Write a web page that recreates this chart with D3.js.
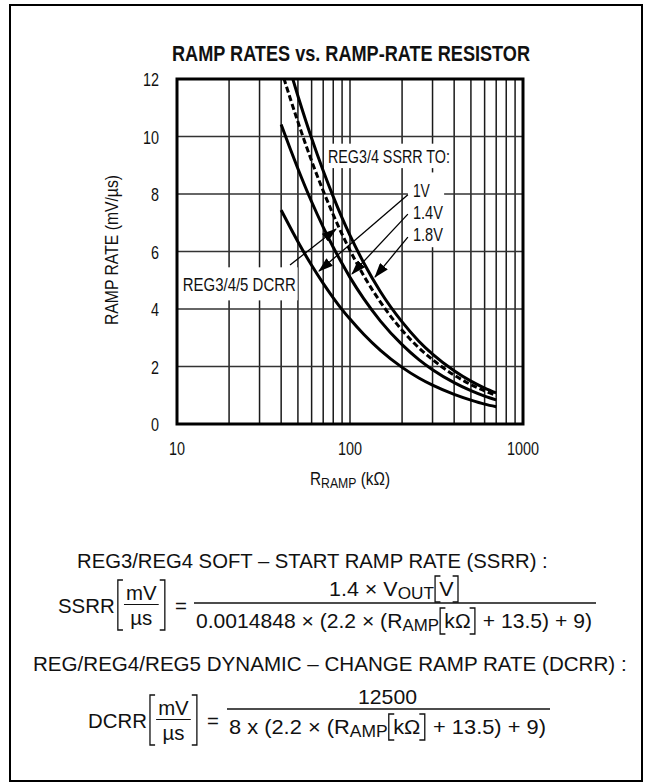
<!DOCTYPE html>
<html>
<head>
<meta charset="utf-8">
<script src="https://cdn.jsdelivr.net/npm/d3@7"></script>
<style>
body { margin: 0; background: #fff; }
text { font-family: "Liberation Sans", Arial, sans-serif; fill: #111; white-space: pre; }
</style>
</head>
<body>
<div class="module"></div>
<script>
// values (R in kOhm, rates in mV/us)
const rRamp   = [40, 45, 50, 60, 70, 80, 90, 100, 120, 150, 200, 250, 300, 400, 500, 600, 700];
const ssrr1v  = [7.44, 6.85, 6.34, 5.52, 4.89, 4.39, 3.98, 3.65, 3.12, 2.56, 1.97, 1.60, 1.35, 1.03, 0.83, 0.69, 0.60];
const ssrr14v = [10.42, 9.59, 8.88, 7.73, 6.85, 6.15, 5.58, 5.10, 4.36, 3.58, 2.76, 2.24, 1.89, 1.44, 1.16, 0.97, 0.84];
const ssrr18v = [13.40, 12.32, 11.41, 9.94, 8.81, 7.91, 7.17, 6.56, 5.61, 4.60, 3.55, 2.88, 2.43, 1.85, 1.49, 1.25, 1.08];
const dcrr    = [12.33, 11.35, 10.51, 9.15, 8.11, 7.28, 6.60, 6.04, 5.16, 4.24, 3.26, 2.65, 2.24, 1.70, 1.37, 1.15, 0.99];

const yTicks = [0, 2, 4, 6, 8, 10, 12];
const xTicks = [10, 100, 1000];
const xGrid = [20, 30, 40, 50, 60, 70, 80, 90, 100, 200, 300, 400, 500, 600, 700, 800, 900];

// annotation anchors, in data units
const voltLabels = ["1V", "1.4V", "1.8V"];
const voltLabelV = [8.14, 7.37, 6.61];
const voltLabelR = 231;
const arrows = [
  { from: [45, 5.53], to: [83, 6.78] },     // DCRR
  { from: [216, 7.97], to: [66.2, 5.32] },  // 1V
  { from: [216, 7.30], to: [102.7, 5.22] }, // 1.4V
  { from: [216, 6.50], to: [139.5, 5.11] }  // 1.8V
];

const W = 652, H = 784;
const svg = d3.select(".module").append("svg")
  .attr("width", W)
  .attr("height", H);

// outer frame
svg.append("rect")
  .attr("x", 10).attr("y", 5)
  .attr("width", 632).attr("height", 776)
  .attr("fill", "none").attr("stroke", "#000").attr("stroke-width", 2);

const x = d3.scaleLog().domain([10, 1000]).range([177, 523]);
const y = d3.scaleLinear().domain([0, 12]).range([424, 79]);

function squeeze(sel, w) {
  return sel.attr("textLength", w).attr("lengthAdjust", "spacingAndGlyphs");
}

// squash a group horizontally so it runs from x0 to x1
function fit(g, x0, x1) {
  const b = g.node().getBBox();
  const s = (x1 - x0) / b.width;
  g.attr("transform", "translate(" + (x0 - b.x * s) + ",0) scale(" + s + ",1)");
}

function bracket(g, bx, y0, y1, dir) {
  g.append("path")
    .attr("d", "M" + (bx + 5 * dir) + "," + y0 + "H" + bx + "V" + y1 + "H" + (bx + 5 * dir))
    .attr("fill", "none").attr("stroke", "#111").attr("stroke-width", 1.3)
    .attr("vector-effect", "non-scaling-stroke");
}

// lay out pieces of a formula on one baseline
function row(parent, pieces, base, fs) {
  const g = parent.append("g");
  let cx = 0;
  pieces.forEach(p => {
    if (p.gap) { cx += p.gap; return; }
    if (p.frac) {
      const top = g.append("text").attr("y", base - 13).style("font-size", fs + "px")
        .attr("text-anchor", "middle").text(p.frac[0]);
      const bot = g.append("text").attr("y", base + 12).style("font-size", fs + "px")
        .attr("text-anchor", "middle").text(p.frac[1]);
      const w = Math.max(top.node().getComputedTextLength(), bot.node().getComputedTextLength());
      bracket(g, cx + 3, base - 33, base + 17, 1);
      const mid = cx + 3 + 8 + w / 2;
      top.attr("x", mid); bot.attr("x", mid);
      g.append("line").attr("x1", mid - w / 2 - 2).attr("x2", mid + w / 2 + 2)
        .attr("y1", base - 8.5).attr("y2", base - 8.5)
        .attr("stroke", "#111").attr("stroke-width", 1.2);
      cx = mid + w / 2 + 8;
      bracket(g, cx, base - 33, base + 17, -1);
      cx += 3;
      return;
    }
    const size = p.sub ? fs * 0.8 : fs;
    const pad = p.br ? 5 : 0;
    if (p.br) bracket(g, cx + 1, base - fs * 1.0, base + fs * 0.3, 1);
    const t = g.append("text")
      .attr("x", cx + pad)
      .attr("y", base + (p.sub ? fs * 0.15 : 0))
      .style("font-size", size + "px")
      .text(p.t);
    cx += pad + t.node().getComputedTextLength() + pad;
    if (p.br) { bracket(g, cx - 1, base - fs * 1.0, base + fs * 0.3, -1); cx += 1; }
  });
  return g;
}

// grid
const grid = svg.append("g");
grid.selectAll("line.v")
  .data(xGrid)
  .enter()
  .append("line")
    .attr("class", "v")
    .attr("x1", d => x(d)).attr("x2", d => x(d))
    .attr("y1", y(0)).attr("y2", y(12))
    .attr("stroke", "#1a1a1a").attr("stroke-width", 1.5);
grid.selectAll("line.h")
  .data(yTicks.slice(1, -1))
  .enter()
  .append("line")
    .attr("class", "h")
    .attr("x1", x(10)).attr("x2", x(1000))
    .attr("y1", d => y(d)).attr("y2", d => y(d))
    .attr("stroke", "#333").attr("stroke-width", 1.5);

// white boxes behind the in-plot labels
const boxes = [
  { x0: x(74), x1: x(385), y0: y(9.75), y1: y(8.9) },
  { x0: x(216), x1: x(350), y0: y(8.75), y1: y(6.15) },
  { x0: x(10.2), x1: x(49.8), y0: y(5.45), y1: y(4.3) }
];
svg.selectAll("rect.box")
  .data(boxes)
  .enter()
  .append("rect")
    .attr("class", "box")
    .attr("x", d => d.x0).attr("y", d => d.y0)
    .attr("width", d => d.x1 - d.x0).attr("height", d => d.y1 - d.y0)
    .attr("fill", "#fff");

// curves
svg.append("clipPath").attr("id", "plot")
  .append("rect")
    .attr("x", x(10)).attr("y", y(12))
    .attr("width", x(1000) - x(10)).attr("height", y(0) - y(12));

const line = d3.line()
  .x(d => x(d[0]))
  .y(d => y(d[1]))
  .curve(d3.curveMonotoneX);

const series = [
  { values: ssrr1v, dash: null },
  { values: ssrr14v, dash: null },
  { values: ssrr18v, dash: null },
  { values: dcrr, dash: "6,3" }
];
svg.append("g")
  .attr("clip-path", "url(#plot)")
  .selectAll("path")
  .data(series)
  .enter()
  .append("path")
    .attr("d", d => line(rRamp.map((r, i) => [r, d.values[i]])))
    .attr("fill", "none")
    .attr("stroke", "#000")
    .attr("stroke-width", 3)
    .attr("stroke-dasharray", d => d.dash);

// leader arrows
svg.append("defs").append("marker")
  .attr("id", "head")
  .attr("viewBox", "0 -5 15 10")
  .attr("refX", 14).attr("refY", 0)
  .attr("markerWidth", 15).attr("markerHeight", 10)
  .attr("markerUnits", "userSpaceOnUse")
  .attr("orient", "auto")
  .append("path")
    .attr("d", "M0,-5L15,0L0,5Z")
    .attr("fill", "#000");

svg.append("g")
  .selectAll("line")
  .data(arrows)
  .enter()
  .append("line")
    .attr("x1", d => x(d.from[0])).attr("y1", d => y(d.from[1]))
    .attr("x2", d => x(d.to[0])).attr("y2", d => y(d.to[1]))
    .attr("stroke", "#000").attr("stroke-width", 1.3)
    .attr("marker-end", "url(#head)");

// in-plot labels
squeeze(svg.append("text")
  .attr("x", x(74.6)).attr("y", y(9.32) + 7)
  .style("font-size", "19px")
  .text("REG3/4 SSRR TO:"), 122);

svg.selectAll("text.volt")
  .data(voltLabels)
  .enter()
  .append("text")
    .attr("class", "volt")
    .attr("x", x(voltLabelR))
    .attr("y", (d, i) => y(voltLabelV[i]) + 7)
    .style("font-size", "19px")
    .attr("textLength", d => d.length === 2 ? 17 : 30)
    .attr("lengthAdjust", "spacingAndGlyphs")
    .text(d => d);

squeeze(svg.append("text")
  .attr("x", x(10.8)).attr("y", y(4.87) + 7)
  .style("font-size", "19px")
  .text("REG3/4/5 DCRR"), 113);

// frame of the plot
svg.append("rect")
  .attr("x", x(10)).attr("y", y(12))
  .attr("width", x(1000) - x(10)).attr("height", y(0) - y(12))
  .attr("fill", "none").attr("stroke", "#000").attr("stroke-width", 3);

// tick labels
svg.selectAll("text.ytick")
  .data(yTicks)
  .enter()
  .append("text")
    .attr("class", "ytick")
    .attr("x", 159)
    .attr("y", d => y(d) + 7)
    .attr("text-anchor", "end")
    .style("font-size", "19px")
    .attr("textLength", d => String(d).length * 8)
    .attr("lengthAdjust", "spacingAndGlyphs")
    .text(d => d);

svg.selectAll("text.xtick")
  .data(xTicks)
  .enter()
  .append("text")
    .attr("class", "xtick")
    .attr("x", d => x(d))
    .attr("y", 455)
    .attr("text-anchor", "middle")
    .style("font-size", "19px")
    .attr("textLength", d => String(d).length * 8)
    .attr("lengthAdjust", "spacingAndGlyphs")
    .text(d => d);

// titles
squeeze(svg.append("text")
  .attr("x", 351).attr("y", 61)
  .attr("text-anchor", "middle")
  .style("font-size", "22px").style("font-weight", "bold")
  .text("RAMP RATES vs. RAMP-RATE RESISTOR"), 358);

squeeze(svg.append("text")
  .attr("transform", "translate(118,250) rotate(-90)")
  .attr("text-anchor", "middle")
  .style("font-size", "19px")
  .text("RAMP RATE (mV/\u00b5s)"), 150);

fit(row(svg, [{ t: "R" }, { t: "RAMP", sub: true }, { t: " (k\u03a9)" }], 485, 19), 310, 390);

// formulas
const f = svg.append("g");
fit(row(f, [{ t: "REG3/REG4 SOFT \u2013 START RAMP RATE (SSRR) :" }], 568, 20), 77, 548);
fit(row(f, [{ t: "SSRR" }, { frac: ["mV", "\u00b5s"] }, { gap: 7 }, { t: "=" }], 613, 20), 58, 187);
fit(row(f, [{ t: "1.4 \u00d7 V" }, { t: "OUT", sub: true }, { t: "V", br: true }], 596, 20), 329, 458);
f.append("line").attr("x1", 194).attr("x2", 596).attr("y1", 603).attr("y2", 603)
  .attr("stroke", "#111").attr("stroke-width", 1.3);
fit(row(f, [{ t: "0.0014848 \u00d7 (2.2 \u00d7 (R" }, { t: "AMP", sub: true }, { t: "k\u03a9", br: true }, { t: " + 13.5) + 9)" }], 628, 20), 196, 592);

fit(row(f, [{ t: "REG/REG4/REG5 DYNAMIC \u2013 CHANGE RAMP RATE (DCRR) :" }], 671, 20), 33, 627);
fit(row(f, [{ t: "DCRR" }, { frac: ["mV", "\u00b5s"] }, { gap: 7 }, { t: "=" }], 728, 20), 88, 219);
fit(row(f, [{ t: "12500" }], 704, 20), 358, 417);
f.append("line").attr("x1", 227).attr("x2", 550).attr("y1", 709).attr("y2", 709)
  .attr("stroke", "#111").attr("stroke-width", 1.3);
fit(row(f, [{ t: "8 x (2.2 \u00d7 (R" }, { t: "AMP", sub: true }, { t: "k\u03a9", br: true }, { t: " + 13.5) + 9)" }], 734, 20), 229, 546);
</script>
</body>
</html>
